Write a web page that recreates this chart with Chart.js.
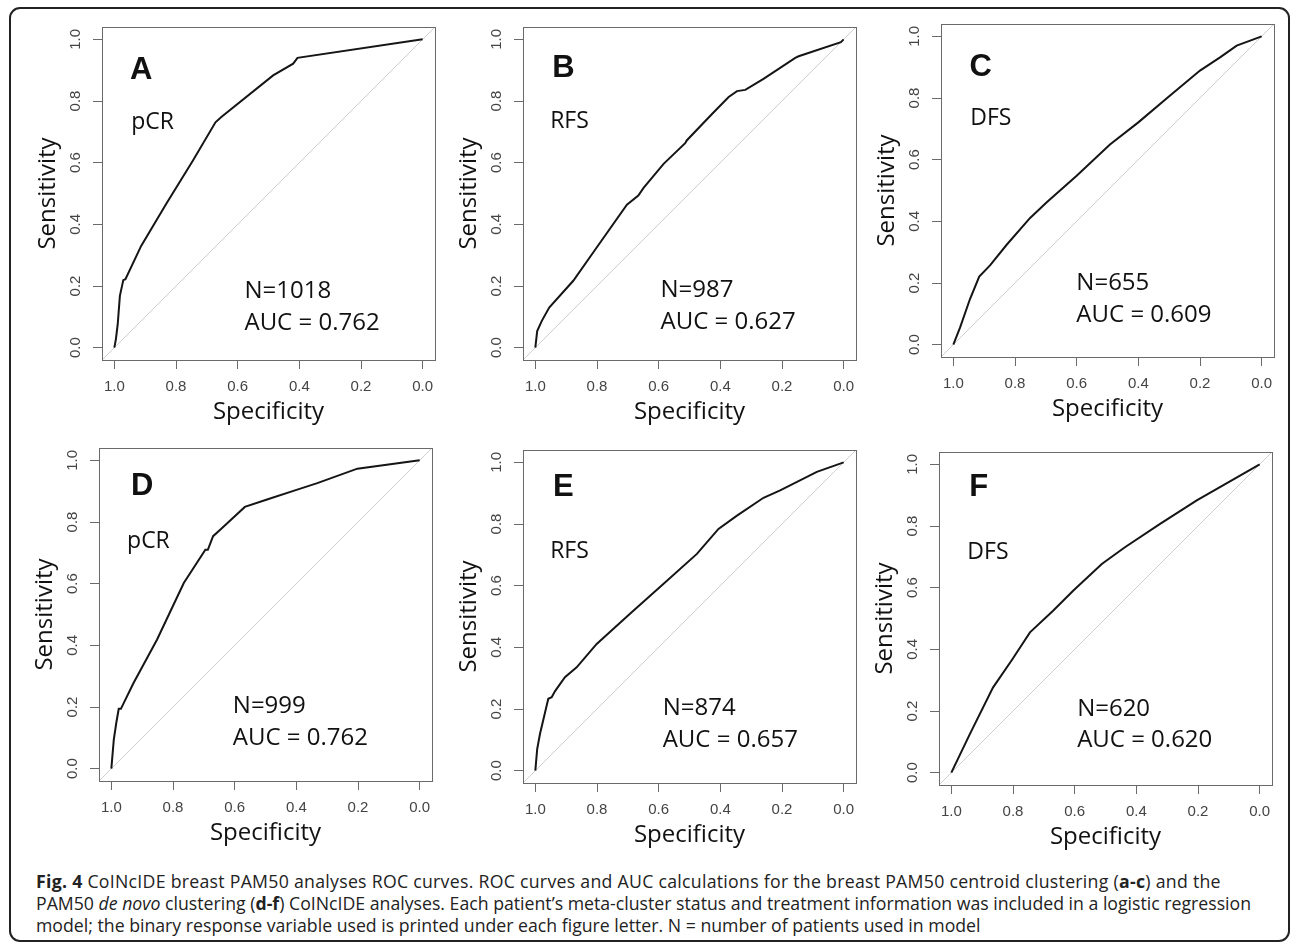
<!DOCTYPE html>
<html>
<head>
<meta charset="utf-8">
<script src="https://cdn.jsdelivr.net/npm/chart.js@4.4.1/dist/chart.umd.min.js"></script>
<style>
body { margin: 0; background: #fff; width: 1295px; height: 944px; position: relative; overflow: hidden; }
#frame { position: absolute; left: 9px; top: 7px; width: 1281px; height: 935px; box-sizing: border-box; border: 2px solid #222; border-radius: 11px; }
canvas { position: absolute; }
#caption { position: absolute; left: 36px; top: 870px; font-family: 'Open Sans', sans-serif; font-size: 17.7px; line-height: 22px; color: #222; white-space: nowrap; }
#caption div.l1 { letter-spacing: 0.28px; }
</style>
</head>
<body>
<div id="frame"></div>
<div id="caption">
<div class="l1"><b>Fig. 4</b> CoINcIDE breast PAM50 analyses ROC curves. ROC curves and AUC calculations for the breast PAM50 centroid clustering (<b>a-c</b>) and the</div>
<div>PAM50 <i>de novo</i> clustering (<b>d-f</b>) CoINcIDE analyses. Each patient’s meta-cluster status and treatment information was included in a logistic regression</div>
<div>model; the binary response variable used is printed under each figure letter. N = number of patients used in model</div>
</div>
<script>
// axis ticks (R default 4% extension around 0..1)
var tickValues = [0, 0.2, 0.4, 0.6, 0.8, 1.0];
var axisMin = -0.04, axisMax = 1.04;

var panelLetters = ['A', 'B', 'C', 'D', 'E', 'F'];
var outcomes = ['pCR', 'RFS', 'DFS', 'pCR', 'RFS', 'DFS'];
var patientCounts = [1018, 987, 655, 999, 874, 620];
var aucValues = ['0.762', '0.627', '0.609', '0.762', '0.657', '0.620'];

// ROC curves: specificity (x, reversed) / sensitivity (y)
var specA = [1.0, 0.995, 0.989, 0.982, 0.971, 0.964, 0.913, 0.832, 0.745, 0.672, 0.653, 0.485, 0.420, 0.406, 0.0];
var sensA = [0.0, 0.027, 0.076, 0.168, 0.219, 0.222, 0.330, 0.466, 0.607, 0.731, 0.748, 0.883, 0.921, 0.940, 1.0];

var specB = [1.0, 0.994, 0.979, 0.955, 0.877, 0.801, 0.703, 0.666, 0.649, 0.584, 0.514, 0.509, 0.427, 0.373, 0.346, 0.319, 0.260, 0.157, 0.146, 0.009, 0.0];
var sensB = [0.0, 0.054, 0.087, 0.130, 0.217, 0.325, 0.464, 0.493, 0.518, 0.596, 0.663, 0.672, 0.758, 0.813, 0.832, 0.836, 0.872, 0.940, 0.945, 0.991, 1.0];

var specC = [1.0, 0.978, 0.946, 0.916, 0.881, 0.827, 0.751, 0.697, 0.600, 0.492, 0.400, 0.297, 0.200, 0.135, 0.081, 0.0];
var sensC = [0.0, 0.056, 0.148, 0.221, 0.257, 0.324, 0.411, 0.462, 0.548, 0.649, 0.721, 0.808, 0.889, 0.932, 0.970, 1.0];

var specD = [1.0, 0.992, 0.984, 0.976, 0.969, 0.928, 0.852, 0.765, 0.695, 0.687, 0.670, 0.646, 0.567, 0.495, 0.397, 0.332, 0.202, 0.0];
var sensD = [0.0, 0.094, 0.148, 0.194, 0.194, 0.278, 0.418, 0.602, 0.710, 0.710, 0.754, 0.776, 0.849, 0.873, 0.905, 0.926, 0.973, 1.0];

var specE = [1.0, 0.994, 0.985, 0.958, 0.947, 0.936, 0.904, 0.866, 0.801, 0.693, 0.584, 0.476, 0.406, 0.346, 0.260, 0.206, 0.087, 0.0];
var sensE = [0.0, 0.070, 0.119, 0.233, 0.238, 0.258, 0.303, 0.335, 0.411, 0.509, 0.606, 0.703, 0.784, 0.827, 0.885, 0.909, 0.969, 1.0];

var specF = [1.0, 0.940, 0.865, 0.802, 0.745, 0.670, 0.605, 0.512, 0.437, 0.323, 0.204, 0.0];
var sensF = [0.0, 0.125, 0.276, 0.368, 0.455, 0.525, 0.590, 0.677, 0.731, 0.807, 0.883, 1.0];

var specs = [specA, specB, specC, specD, specE, specF];
var senses = [sensA, sensB, sensC, sensD, sensE, sensF];

// page layout: top-left corner of each plot box, and where the notes sit (axis units)
var areaCorner = [[102.3, 26.7], [522.7, 26.7], [941, 24.3], [98.7, 448.3], [522.7, 450], [939, 451.7]];
var notePos = [
    { letter: [0.913, 0.900], label: [0.945, 0.731], n: [0.578, 0.184], auc: [0.578, 0.081] },
    { letter: [0.909, 0.905], label: [0.952, 0.734], n: [0.594, 0.186], auc: [0.594, 0.083] },
    { letter: [0.911, 0.900], label: [0.945, 0.735], n: [0.601, 0.199], auc: [0.601, 0.096] },
    { letter: [0.900, 0.916], label: [0.949, 0.737], n: [0.606, 0.202], auc: [0.606, 0.099] },
    { letter: [0.909, 0.920], label: [0.952, 0.711], n: [0.587, 0.202], auc: [0.587, 0.100] },
    { letter: [0.911, 0.926], label: [0.948, 0.715], n: [0.592, 0.207], auc: [0.592, 0.105] }
];

var plotSize = 333, yAxisW = 95, xAxisH = 70, padTop = 6, padRight = 6;
var frameGrey = '#6a6a6a';
var textFont = "'Open Sans', sans-serif";
var tickFont = "'Liberation Sans', Arial, sans-serif";

var boxPlugin = {
    id: 'box',
    afterDraw: function (chart) {
        var a = chart.chartArea, ctx = chart.ctx;
        ctx.save();
        ctx.strokeStyle = frameGrey;
        ctx.lineWidth = 1;
        ctx.strokeRect(Math.round(a.left) + 0.5, Math.round(a.top) + 0.5, Math.round(a.right - a.left), Math.round(a.bottom - a.top));
        ctx.restore();
    }
};

var notesPlugin = {
    id: 'notes',
    afterDatasetsDraw: function (chart, args, opts) {
        var ctx = chart.ctx, sx = chart.scales.x, sy = chart.scales.y, p = opts.pos;
        function px(v) { return [sx.getPixelForValue(v[0]), sy.getPixelForValue(v[1])]; }
        ctx.save();
        ctx.fillStyle = '#111';
        ctx.textBaseline = 'middle';
        ctx.textAlign = 'center';
        ctx.font = 'bold 31px ' + tickFont;
        var q = px(p.letter);
        ctx.fillText(opts.letter, q[0], q[1]);
        ctx.textAlign = 'left';
        ctx.font = '23px ' + textFont;
        q = px(p.label);
        ctx.fillText(opts.outcome, q[0], q[1]);
        ctx.font = '24px ' + textFont;
        q = px(p.n);
        ctx.fillText('N=' + opts.n, q[0], q[1]);
        q = px(p.auc);
        ctx.fillText('AUC = ' + opts.auc, q[0], q[1]);
        ctx.restore();
    }
};

function setTicks(scale) {
    scale.ticks = tickValues.map(function (v) { return { value: v }; });
}

function fixSize(scale) {
    if (scale.isHorizontal()) scale.height = xAxisH;
    else scale.width = yAxisW;
    scale.paddingLeft = scale.paddingRight = scale.paddingTop = scale.paddingBottom = 0;
}

for (var i = 0; i < 6; i++) {
    var cv = document.createElement('canvas');
    var w = yAxisW + plotSize + padRight, h = padTop + plotSize + xAxisH;
    cv.width = w;
    cv.height = h;
    cv.style.left = (areaCorner[i][0] - yAxisW) + 'px';
    cv.style.top = (areaCorner[i][1] - padTop) + 'px';
    cv.style.width = w + 'px';
    cv.style.height = h + 'px';
    document.body.appendChild(cv);

    var curve = specs[i].map(function (s, k) { return { x: s, y: senses[i][k] }; });
    var chance = [{ x: axisMax, y: axisMin }, { x: axisMin, y: axisMax }];

    new Chart(cv, {
        type: 'scatter',
        data: {
            datasets: [
                { data: curve, showLine: true, borderColor: '#151515', borderWidth: 2, pointRadius: 0, tension: 0 },
                { data: chance, showLine: true, borderColor: '#cfcfcf', borderWidth: 1, pointRadius: 0 }
            ]
        },
        plugins: [boxPlugin, notesPlugin],
        options: {
            responsive: false,
            animation: false,
            devicePixelRatio: 1,
            layout: { padding: { left: 0, top: padTop, right: padRight, bottom: 0 } },
            plugins: {
                legend: { display: false },
                tooltip: { enabled: false },
                notes: { pos: notePos[i], letter: panelLetters[i], outcome: outcomes[i], n: patientCounts[i], auc: aucValues[i] }
            },
            scales: {
                x: {
                    type: 'linear', reverse: true, min: axisMin, max: axisMax,
                    afterBuildTicks: setTicks, afterFit: fixSize,
                    border: { display: false },
                    grid: { drawOnChartArea: false, drawTicks: true, tickLength: 9, color: frameGrey, lineWidth: 1 },
                    ticks: { autoSkip: false, maxRotation: 0, padding: 9, color: '#444', font: { family: tickFont, size: 15 },
                        callback: function (v) { return v.toFixed(1); } },
                    title: { display: true, text: 'Specificity', color: '#111', font: { family: textFont, size: 24 }, padding: { top: 0, bottom: 3 } }
                },
                y: {
                    type: 'linear', min: axisMin, max: axisMax,
                    afterBuildTicks: setTicks, afterFit: fixSize,
                    border: { display: false },
                    grid: { drawOnChartArea: false, drawTicks: true, tickLength: 9, color: frameGrey, lineWidth: 1 },
                    ticks: { autoSkip: false, minRotation: 90, maxRotation: 90, crossAlign: 'center', padding: 7, color: '#444', font: { family: tickFont, size: 15 },
                        callback: function (v) { return v.toFixed(1); } },
                    title: { display: true, text: 'Sensitivity', color: '#111', font: { family: textFont, size: 24 }, padding: { top: 27, bottom: 0 } }
                }
            }
        }
    });
}
</script>
</body>
</html>
